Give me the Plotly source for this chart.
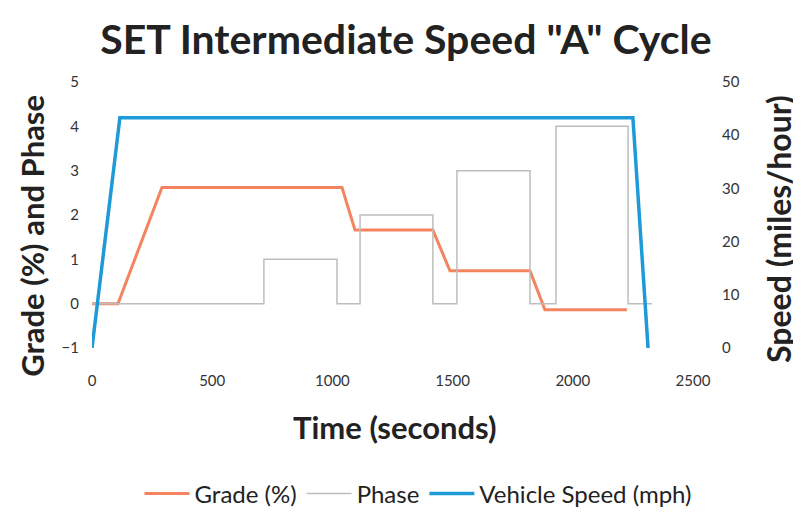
import plotly.graph_objects as go

# ---- data ----
grade_time = [0, 108, 291, 1040, 1094, 1418, 1489, 1822, 1884, 2225]
grade_value = [0, 0, 2.62, 2.62, 1.66, 1.66, 0.74, 0.74, -0.14, -0.14]

phase_time = [0, 715, 1019, 1115, 1418, 1518, 1822, 1930, 2230, 2329]
phase_value = [0, 1, 0, 2, 0, 3, 0, 4, 0, 0]

speed_time = [0, 116, 2250, 2313]
speed_value = [0, 43.3, 43.3, 0]

x_ticks = [0, 500, 1000, 1500, 2000, 2500]
left_ticks = [-1, 0, 1, 2, 3, 4, 5]
right_ticks = [0, 10, 20, 30, 40, 50]

FONT = "Lato"
DARK = "#222222"
TICK = "#333333"

# the page has an 8px body margin, so the figure is 8px smaller each way
W, H = 793, 521
PL, PR, PT, PB = 84, 685, 74, 342   # plot area in figure pixels
pw, ph = PR - PL, PB - PT


def px(xp):  # figure pixel -> paper x
    return (xp - PL) / pw


def py(yp):  # figure pixel -> paper y
    return (PB - yp) / ph


fig = go.Figure()
fig.add_trace(go.Scatter(x=grade_time, y=grade_value, mode="lines", name="Grade (%)",
                         line=dict(color="#F4845F", width=3)))
fig.add_trace(go.Scatter(x=phase_time, y=phase_value, mode="lines", name="Phase",
                         line=dict(color="#BDBDBD", width=1.5, shape="hv")))
fig.add_trace(go.Scatter(x=speed_time, y=speed_value, mode="lines", name="Vehicle Speed (mph)",
                         line=dict(color="#1E9AD8", width=3.5), yaxis="y2"))

fig.update_layout(
    width=W, height=H,
    paper_bgcolor="white", plot_bgcolor="white",
    margin=dict(l=PL, r=W - PR, t=PT, b=H - PB, pad=0),
    font=dict(family=FONT, color=DARK),
    title=dict(text="<b>SET Intermediate Speed \"A\" Cycle</b>", x=398 / W, xanchor="center",
               y=1 - 32 / H, yanchor="middle", yref="container",
               font=dict(family=FONT, size=41, color=DARK)),
    xaxis=dict(range=[0, 2500], tickvals=x_ticks, showgrid=False, zeroline=False,
               showline=False, ticks="", ticklabelstandoff=22,
               tickfont=dict(family=FONT, size=15, color=TICK)),
    yaxis=dict(range=[-1, 5], tickvals=left_ticks, showgrid=False, zeroline=False,
               showline=False, ticks="", ticklabelstandoff=12,
               tickfont=dict(family=FONT, size=15, color=TICK)),
    yaxis2=dict(range=[0, 50], tickvals=right_ticks, overlaying="y", side="right",
                showgrid=False, zeroline=False, showline=False, ticks="",
                ticklabelstandoff=28,
                tickfont=dict(family=FONT, size=15, color=TICK)),
    showlegend=True,
    legend=dict(orientation="h", x=px(410), xanchor="center", y=py(489), yanchor="middle",
                font=dict(family=FONT, size=24, color=DARK), itemwidth=45,
                bgcolor="rgba(0,0,0,0)"),
    annotations=[
        dict(text="<b>Time (seconds)</b>", xref="paper", yref="paper",
             x=px(387), y=py(422), xanchor="center", yanchor="middle",
             showarrow=False, font=dict(family=FONT, size=31, color=DARK)),
        dict(text="<b>Grade (%) and Phase</b>", xref="paper", yref="paper",
             x=px(24), y=py(229), xanchor="center", yanchor="middle",
             textangle=-90, showarrow=False, font=dict(family=FONT, size=31, color=DARK)),
        dict(text="<b>Speed (miles/hour)</b>", xref="paper", yref="paper",
             x=px(771), y=py(222), xanchor="center", yanchor="middle",
             textangle=-90, showarrow=False, font=dict(family=FONT, size=32, color=DARK)),
    ],
)

fig.write_html("out.html")
